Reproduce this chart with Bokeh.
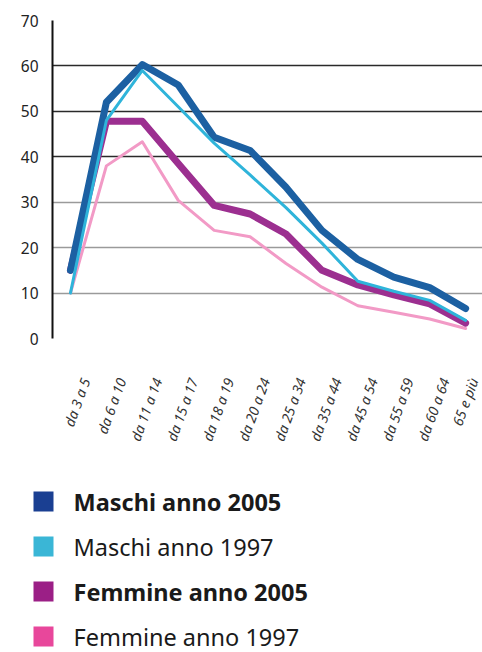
from bokeh.plotting import figure
from bokeh.layouts import column, row
from bokeh.models import FixedTicker, Grid, ColumnDataSource, Range1d, LinearAxis
from bokeh.core.properties import value
from bokeh.embed import file_html
from bokeh.resources import INLINE

categories = ["da 3 a 5", "da 6 a 10", "da 11 a 14", "da 15 a 17", "da 18 a 19",
              "da 20 a 24", "da 25 a 34", "da 35 a 44", "da 45 a 54", "da 55 a 59",
              "da 60 a 64", "65 e più"]
maschi_2005 = [15, 52, 60.3, 55.8, 44.3, 41.4, 33.3, 23.8, 17.4, 13.5, 11.2, 6.6]
maschi_1997 = [10, 48, 59, 51, 43, 36, 28.8, 21, 12.6, 10.4, 8.4, 4]
femmine_2005 = [15, 47.8, 47.8, 38.5, 29.3, 27.4, 23, 15, 11.8, 9.6, 7.6, 3.4]
femmine_1997 = [10, 38, 43.3, 30.4, 23.8, 22.4, 16.5, 11.3, 7.2, 5.8, 4.3, 2.2]

series_names = ["Maschi anno 2005", "Maschi anno 1997", "Femmine anno 2005", "Femmine anno 1997"]
series_values = [maschi_2005, maschi_1997, femmine_2005, femmine_1997]
line_colors = ["#1c60a2", "#2fb4da", "#9c2f90", "#f29ac6"]
legend_colors = ["#1a3f92", "#3ab6d6", "#9b1f86", "#e8479b"]
line_widths = [7, 3, 7, 3]
bold = [True, False, True, False]
y_ticks = [0, 10, 20, 30, 40, 50, 60, 70]

FONT = "Noto Sans"
xs = list(range(len(categories)))
X0, X1 = -0.5, len(categories) - 0.53
LABEL_SHIFT = 0.42

p = figure(width=482, height=470, output_backend="svg", toolbar_location=None,
           x_range=(X0, X1), y_range=(0, 70),
           min_border_left=52, min_border_right=0, min_border_top=20, min_border_bottom=132)
p.outline_line_color = None
p.background_fill_color = "white"
p.border_fill_color = "white"
p.xgrid.visible = False
p.ygrid.ticker = FixedTicker(ticks=[10, 20, 30])
p.ygrid.grid_line_color = "#9a9a9a"
p.ygrid.grid_line_width = 1.5
dark_grid = Grid(dimension=1, ticker=FixedTicker(ticks=[40, 50, 60, 70]),
                 grid_line_color="#2a2a2a", grid_line_width=1.5)
p.add_layout(dark_grid, "center")
base_grid = Grid(dimension=1, ticker=FixedTicker(ticks=[0]),
                 grid_line_color="#111111", grid_line_width=2.5)
p.add_layout(base_grid, "center")

p.yaxis.ticker = FixedTicker(ticks=y_ticks)
p.yaxis.axis_line_color = "#111111"
p.yaxis.axis_line_width = 2
p.yaxis.major_tick_line_color = None
p.yaxis.minor_tick_line_color = None
p.yaxis.major_label_text_font = FONT
p.yaxis.major_label_text_font_size = "15.5px"
p.yaxis.major_label_text_color = "#222222"
p.yaxis.major_label_standoff = 8

p.xaxis.visible = False
p.extra_x_ranges = {"lab": Range1d(start=X0 - LABEL_SHIFT, end=X1 - LABEL_SHIFT)}
xax = LinearAxis(x_range_name="lab")
xax.ticker = FixedTicker(ticks=xs)
xax.major_label_overrides = {i: c for i, c in zip(xs, categories)}
xax.major_label_orientation = 1.22
xax.axis_line_color = None
xax.major_tick_line_color = None
xax.minor_tick_line_color = None
xax.major_label_text_font = FONT
xax.major_label_text_font_style = "italic"
xax.major_label_text_font_size = "14px"
xax.major_label_text_color = "#333333"
xax.major_label_standoff = 34
p.add_layout(xax, "below")

for idx in [3, 2, 0, 1]:
    p.line(xs, series_values[idx], line_color=line_colors[idx],
           line_width=line_widths[idx], line_join="round", line_cap="round")

# legend panel
LH = 182
leg = figure(width=482, height=LH, output_backend="svg", toolbar_location=None,
             x_range=(0, 482), y_range=(LH, 0),
             x_axis_location=None, y_axis_location=None,
             min_border_left=0, min_border_right=0, min_border_top=0, min_border_bottom=0)
leg.grid.visible = False
leg.outline_line_color = None
leg.background_fill_color = "white"
leg.border_fill_color = "white"

row_y = [31 + i * 45 for i in range(len(series_names))]
leg.rect(x=[43] * len(series_names), y=row_y, width=20, height=20,
         fill_color=legend_colors, line_color=None)
src = ColumnDataSource(dict(x=[73] * len(series_names), y=row_y, t=series_names,
                            st=["bold" if b else "normal" for b in bold]))
leg.text(x="x", y="y", text="t", source=src, text_font=value(FONT),
         text_font_size="23.5px", text_font_style="st", text_baseline="middle",
         text_align="left", text_color="#1a1a1a")

layout = column(row(p), row(leg), spacing=0)
open("out.html", "w").write(file_html(layout, INLINE))
